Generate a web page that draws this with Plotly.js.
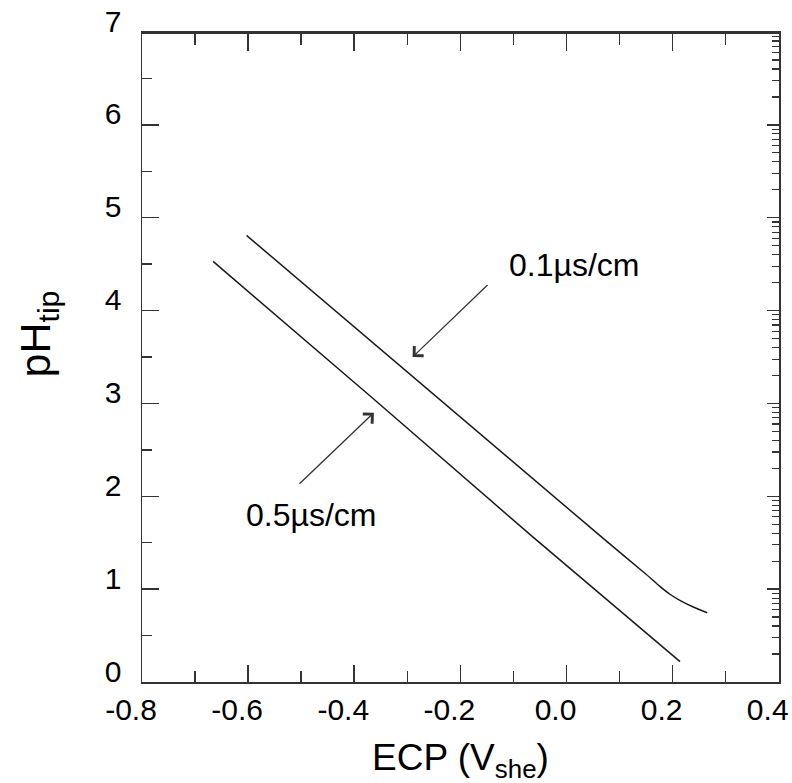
<!DOCTYPE html>
<html>
<head>
<meta charset="utf-8">
<script src="https://cdn.plot.ly/plotly-3.0.1.min.js"></script>
<style>html,body{margin:0;padding:0;background:#fff;}#chart{width:792px;height:783px;}</style>
</head>
<body>
<div id="chart"></div>
<script>
// ECP (V_she) vs pH at crack tip, two conductivities
const ecpLow = [-0.603, 0.0725, 0.15, 0.176, 0.195, 0.2136, 0.24, 0.265];   // 0.1 µs/cm
const phLow  = [4.81, 1.53, 1.16, 1.03, 0.945, 0.88, 0.805, 0.746];
const ecpHigh = [-0.666, -0.364, -0.063, 0.214];                            // 0.5 µs/cm
const phHigh  = [4.53, 3.05, 1.56, 0.22];
const seriesNames = ['0.1µs/cm', '0.5µs/cm'];
const xTickVals = [-0.8, -0.6, -0.4, -0.2, 0.0, 0.2, 0.4];
const xTickText = ['-0.8', '-0.6', '-0.4', '-0.2', '0.0', '0.2', '0.4'];

const FONT = 'Liberation Sans, Arial, sans-serif';
const AX = '#333333';
const LINE = '#1a1a1a';

const traces = [
  {x: ecpLow, y: phLow, mode: 'lines', name: seriesNames[0], line: {color: LINE, width: 1.5, shape: 'spline', smoothing: 0.6}, hoverinfo: 'x+y'},
  {x: ecpHigh, y: phHigh, mode: 'lines', name: seriesNames[1], line: {color: LINE, width: 1.5}, hoverinfo: 'x+y'},
  {x: [-0.8], y: [null], xaxis: 'x2', yaxis: 'y2', mode: 'lines', showlegend: false, hoverinfo: 'skip'}
];

const tickStyle = {ticks: 'inside', tickwidth: 1.5, tickcolor: AX, showgrid: false, zeroline: false,
                   showline: true, linecolor: AX, linewidth: 1.5};

const layout = {
  width: 792, height: 783,
  margin: {l: 142, r: 13, t: 32, b: 101, pad: 0},
  paper_bgcolor: '#fff', plot_bgcolor: '#fff',
  showlegend: false,
  font: {family: FONT, color: '#000'},
  xaxis: Object.assign({}, tickStyle, {
    range: [-0.8, 0.4005], tickvals: xTickVals, ticktext: xTickText, ticklen: 17, mirror: 'allticks',
    ticklabeloverflow: 'allow', ticklabelshift: -11,
    minor: {dtick: 0.1, tick0: -0.8, ticks: 'inside', ticklen: 11, tickwidth: 1.5, tickcolor: AX, showgrid: false},
    tickfont: {family: FONT, size: 30, color: '#000'},
    title: {text: 'ECP (V<sub>she</sub>)', font: {family: FONT, size: 37, color: '#000'}, standoff: 20}
  }),
  xaxis2: Object.assign({}, tickStyle, {
    overlaying: 'x', side: 'top', anchor: 'free', position: 1, range: [-0.8, 0.4005], tickvals: xTickVals, ticklen: 17,
    showticklabels: false,
    minor: {dtick: 0.1, tick0: -0.8, ticks: 'inside', ticklen: 11, tickwidth: 1.5, tickcolor: AX, showgrid: false}
  }),
  yaxis: Object.assign({}, tickStyle, {
    range: [0, 7], dtick: 1, ticklen: 17, mirror: false,
    minor: {dtick: 0.5, ticks: 'inside', ticklen: 10, tickwidth: 1.5, tickcolor: AX, showgrid: false},
    tickfont: {family: FONT, size: 30, color: '#000'},
    ticklabelstandoff: 13, ticklabelshift: -11
  }),
  yaxis2: Object.assign({}, tickStyle, {
    overlaying: 'y', side: 'right', anchor: 'x', type: 'log', range: [0, 7], dtick: 1, ticklen: 12,
    showticklabels: false,
    minor: {dtick: 'D1', ticks: 'inside', ticklen: 7, tickwidth: 1.2, tickcolor: AX, showgrid: false}
  }),
  annotations: [
    {xref: 'paper', yref: 'paper', x: -0.163, y: 0.535, text: 'pH<sub>tip</sub>', textangle: -90,
     showarrow: false, xanchor: 'center', yanchor: 'middle', font: {family: FONT, size: 43, color: '#000'}},
    {x: -0.290, y: 3.50, ax: -0.146, ay: 4.29, axref: 'x', ayref: 'y', text: '', showarrow: true,
     arrowhead: 4, arrowsize: 2, arrowwidth: 1.3, arrowcolor: AX, standoff: 0, startstandoff: 0},
    {x: 0.014, y: 4.49, text: seriesNames[0], showarrow: false, xanchor: 'center', yanchor: 'middle',
     font: {family: FONT, size: 32, color: '#000'}},
    {x: -0.363, y: 2.90, ax: -0.506, ay: 2.12, axref: 'x', ayref: 'y', text: '', showarrow: true,
     arrowhead: 4, arrowsize: 2, arrowwidth: 1.3, arrowcolor: AX, standoff: 0, startstandoff: 0},
    {x: -0.482, y: 1.80, text: seriesNames[1], showarrow: false, xanchor: 'center', yanchor: 'middle',
     font: {family: FONT, size: 32, color: '#000'}}
  ]
};

Plotly.newPlot('chart', traces, layout, {staticPlot: true, displayModeBar: false});
</script>
</body>
</html>
